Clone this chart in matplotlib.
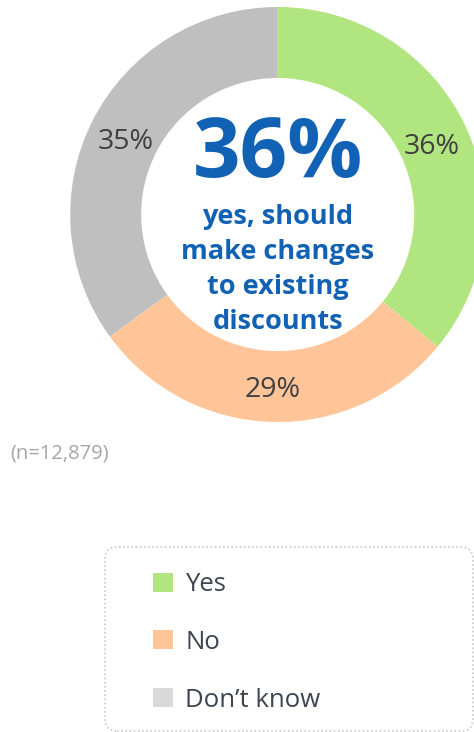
import matplotlib.pyplot as plt
from matplotlib.patches import Patch, FancyBboxPatch

plt.rcParams['font.family'] = ['Open Sans', 'DejaVu Sans']

labels = ['Yes', 'No', 'Don\u2019t know']
values = [36, 29, 35]
colors = ['#b1e57f', '#ffc599', '#bfbfbf']
legend_colors = ['#b1e57f', '#ffc599', '#d9d9d9']
headline = ['yes, should', 'make changes', 'to existing', 'discounts']
sample_note = '(n=12,879)'

fig = plt.figure(figsize=(4.74, 7.32), dpi=100)
ax = fig.add_axes([70.2 / 474, 310 / 732, 415 / 474, 415 / 732])

wedges, texts, autotexts = ax.pie(values, colors=colors, startangle=90, counterclock=False,
                                  radius=1, wedgeprops=dict(width=0.342, linewidth=0),
                                  autopct='%.0f%%', pctdistance=0.82,
                                  textprops=dict(fontsize=20.5, color='#404040'))
for w in wedges:
    w.set_clip_on(False)
# labels sit a little lower in the original
for t in autotexts:
    x, y = t.get_position()
    t.set_position((x, y - 0.025))
ax.set_xlim(-1, 1)
ax.set_ylim(-1, 1)
ax.set_aspect('equal')
ax.axis('off')

blue = '#1162b4'
ax.text(0, 0.181, f'{values[0]}%', ha='center', va='baseline', fontsize=60,
        fontweight='bold', color=blue)
for i, line in enumerate(headline):
    ax.text(0, -0.046 - i * 0.168, line, ha='center', va='baseline', fontsize=19.5,
            fontweight='bold', color=blue)

fig.text(10 / 474, 1 - 454 / 732, sample_note, ha='left', va='center', fontsize=14.5,
         color='#a6a6a6')

# legend box
box = FancyBboxPatch((105, 1), 368, 732 - 547 - 1, boxstyle='round,pad=0,rounding_size=12',
                     transform=None, facecolor='none', edgecolor='#c8c8c8',
                     linestyle=(0, (1, 1.5)), linewidth=1.2)
fig.patches.append(box)

handles = [Patch(facecolor=c, edgecolor='none') for c in legend_colors]
fig.legend(handles, labels, loc='upper left', bbox_to_anchor=(153 / 474, 1 - 572 / 732),
           frameon=False, fontsize=18.5, handlelength=0.76, handleheight=0.76,
           handletextpad=0.5, labelspacing=1.28, borderpad=0, borderaxespad=0,
           labelcolor='#3c4450')

fig.savefig('out.png', dpi=100)
